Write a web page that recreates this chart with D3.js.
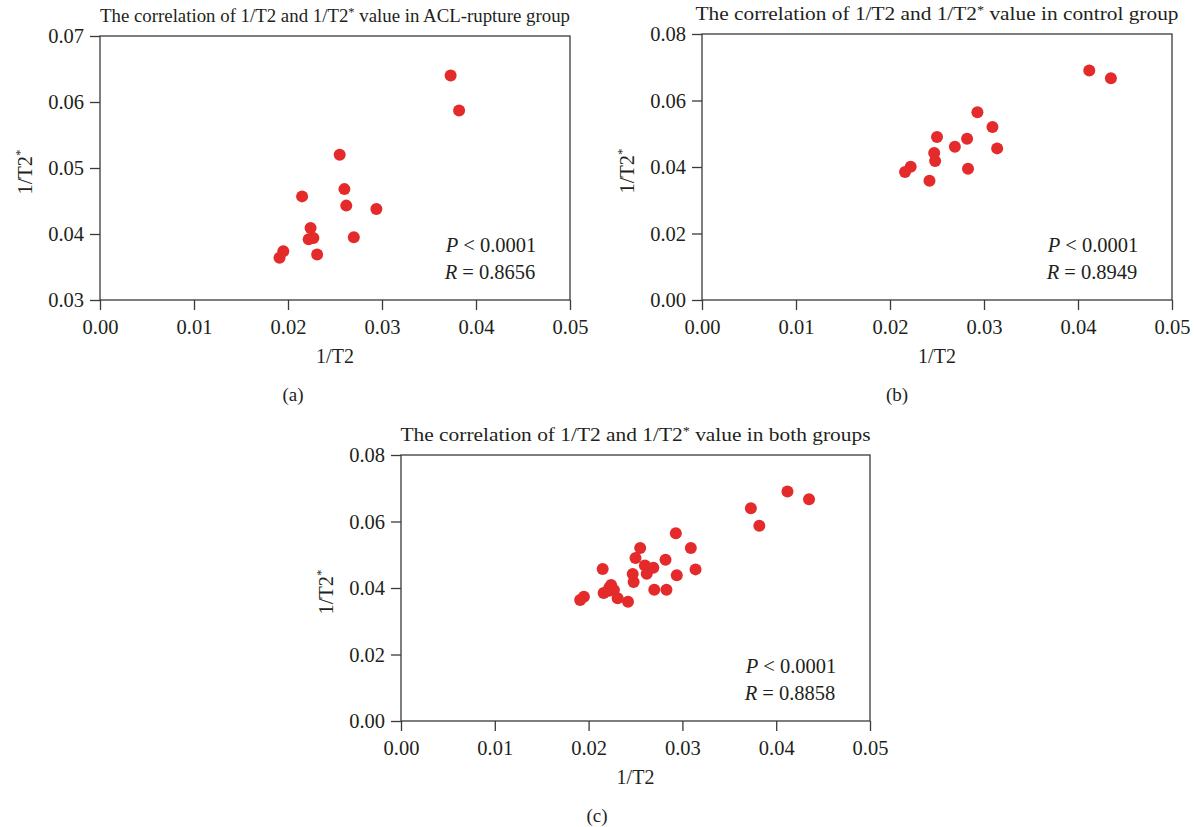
<!DOCTYPE html>
<html>
<head>
<meta charset="utf-8">
<script src="https://cdn.jsdelivr.net/npm/d3@7"></script>
<style>
    body { margin: 0; background: #fff; }
    svg text { font-family: 'Liberation Serif', 'Times New Roman', serif; fill: #231f20; }
    .axis path { display: none; }
    .axis line { stroke: #3a3a3a; stroke-width: 1.3; }
    .frame { fill: none; stroke: #3a3a3a; stroke-width: 1.3; }
    .dot { fill: #e42a2a; }
</style>
</head>
<body>
<svg id="chart" width="1194" height="827"></svg>
<script>
// values
const aclT2 = [0.0373, 0.0382, 0.0255, 0.0260, 0.0262, 0.0294, 0.0215, 0.0224, 0.0222, 0.0227, 0.0270, 0.0231, 0.0195, 0.0191]
const aclT2star = [0.0640, 0.0587, 0.0520, 0.0468, 0.0443, 0.0438, 0.0457, 0.0409, 0.0392, 0.0394, 0.0395, 0.0369, 0.0374, 0.0364]

const ctrlT2 = [0.0412, 0.0435, 0.0293, 0.0309, 0.0250, 0.0282, 0.0269, 0.0314, 0.0247, 0.0248, 0.0283, 0.0222, 0.0216, 0.0242]
const ctrlT2star = [0.0690, 0.0667, 0.0565, 0.0520, 0.0490, 0.0485, 0.0461, 0.0456, 0.0442, 0.0418, 0.0395, 0.0401, 0.0385, 0.0359]

const xTicks = [0.00, 0.01, 0.02, 0.03, 0.04, 0.05]
const aclYTicks = [0.03, 0.04, 0.05, 0.06, 0.07]
const yTicks = [0.00, 0.02, 0.04, 0.06, 0.08]

const groupNames = ['ACL-rupture group', 'control group', 'both groups']
const pValues = ['0.0001', '0.0001', '0.0001']
const rValues = ['0.8656', '0.8949', '0.8858']
const panelLetters = ['(a)', '(b)', '(c)']

const toPoints = (xs, ys) => xs.map((x, i) => ({ t2: x, t2star: ys[i] }))

class ScatterPlot {

    constructor(_config, _data) {
        this.config = {
            parentElement: _config.parentElement,
            left: _config.left,
            top: _config.top,
            width: _config.width,
            height: _config.height,
            titleWidth: _config.titleWidth,
            letterX: _config.letterX,
            yDomain: _config.yDomain,
            yTicks: _config.yTicks,
            group: _config.group,
            p: _config.p,
            r: _config.r,
            letter: _config.letter
        }
        this.data = _data
        this.initVis()
    }

    initVis() {
        let vis = this

        vis.width = vis.config.width
        vis.height = vis.config.height

        vis.chart = d3.select(vis.config.parentElement)
            .append('g')
                .attr('transform', `translate(${vis.config.left}, ${vis.config.top})`)

        vis.xScale = d3.scaleLinear()
            .domain([0, 0.05])
            .range([0, vis.width])

        vis.yScale = d3.scaleLinear()
            .domain(vis.config.yDomain)
            .range([vis.height, 0])

        vis.xAxis = d3.axisBottom(vis.xScale)
            .tickValues(xTicks)
            .tickFormat(d3.format('.2f'))
            .tickSize(10)
            .tickPadding(9)

        vis.yAxis = d3.axisLeft(vis.yScale)
            .tickValues(vis.config.yTicks)
            .tickFormat(d3.format('.2f'))
            .tickSize(10)
            .tickPadding(6)

        vis.xAxisGroup = vis.chart.append('g')
            .attr('class', 'axis x-axis')
            .attr('transform', `translate(0, ${vis.height})`)

        vis.yAxisGroup = vis.chart.append('g')
            .attr('class', 'axis y-axis')

        vis.chart.append('rect')
            .attr('class', 'frame')
            .attr('width', vis.width)
            .attr('height', vis.height)

        // title with superscript star
        let title = vis.chart.append('text')
            .attr('x', vis.width / 2)
            .attr('y', -14)
            .attr('text-anchor', 'middle')
            .attr('font-size', 18)
            .attr('textLength', vis.config.titleWidth)
            .attr('lengthAdjust', 'spacingAndGlyphs')
        title.append('tspan').text('The correlation of 1/T2 and 1/T2')
        title.append('tspan').attr('dy', -6).attr('font-size', 12).text('*')
        title.append('tspan').attr('dy', 6).text(` value in ${vis.config.group}`)

        vis.chart.append('text')
            .attr('x', vis.width / 2)
            .attr('y', vis.height + 63)
            .attr('text-anchor', 'middle')
            .attr('font-size', 20)
            .text('1/T2')

        let ylab = vis.chart.append('text')
            .attr('transform', 'rotate(-90)')
            .attr('x', -vis.height / 2 - 4)
            .attr('y', -68)
            .attr('text-anchor', 'middle')
            .attr('font-size', 20.5)
        ylab.append('tspan').text('1/T2')
        ylab.append('tspan').attr('dy', -8).attr('font-size', 13).text('*')

        let pText = vis.chart.append('text')
            .attr('x', vis.width - 79)
            .attr('y', vis.height - 48)
            .attr('text-anchor', 'middle')
            .attr('font-size', 20.5)
        pText.append('tspan').attr('font-style', 'italic').text('P')
        pText.append('tspan').text(` < ${vis.config.p}`)

        let rText = vis.chart.append('text')
            .attr('x', vis.width - 80)
            .attr('y', vis.height - 21)
            .attr('text-anchor', 'middle')
            .attr('font-size', 20.5)
        rText.append('tspan').attr('font-style', 'italic').text('R')
        rText.append('tspan').text(` = ${vis.config.r}`)

        vis.chart.append('text')
            .attr('x', vis.config.letterX - vis.config.left)
            .attr('y', vis.height + 101)
            .attr('text-anchor', 'middle')
            .attr('font-size', 19)
            .text(vis.config.letter)

        vis.updateVis()
    }

    updateVis() {
        let vis = this
        vis.xValue = d => d.t2
        vis.yValue = d => d.t2star
        vis.renderVis()
    }

    renderVis() {
        let vis = this

        vis.xAxisGroup.call(vis.xAxis)
        vis.yAxisGroup.call(vis.yAxis)
        vis.chart.selectAll('.axis text').attr('font-size', 20.5)

        vis.chart.selectAll('.dot')
            .data(vis.data)
            .join('circle')
                .attr('class', 'dot')
                .attr('cx', d => vis.xScale(vis.xValue(d)))
                .attr('cy', d => vis.yScale(vis.yValue(d)))
                .attr('r', 6)
    }
}

const aclData = toPoints(aclT2, aclT2star)
const ctrlData = toPoints(ctrlT2, ctrlT2star)

new ScatterPlot({
    parentElement: '#chart', left: 100, top: 36, width: 470, height: 264,
    titleWidth: 470, letterX: 293, yDomain: [0.03, 0.07], yTicks: aclYTicks,
    group: groupNames[0], p: pValues[0], r: rValues[0], letter: panelLetters[0]
}, aclData)

new ScatterPlot({
    parentElement: '#chart', left: 702, top: 34, width: 470, height: 266,
    titleWidth: 483, letterX: 897, yDomain: [0, 0.08], yTicks: yTicks,
    group: groupNames[1], p: pValues[1], r: rValues[1], letter: panelLetters[1]
}, ctrlData)

new ScatterPlot({
    parentElement: '#chart', left: 401, top: 455, width: 469, height: 266,
    titleWidth: 470, letterX: 597, yDomain: [0, 0.08], yTicks: yTicks,
    group: groupNames[2], p: pValues[2], r: rValues[2], letter: panelLetters[2]
}, aclData.concat(ctrlData))
</script>
</body>
</html>
